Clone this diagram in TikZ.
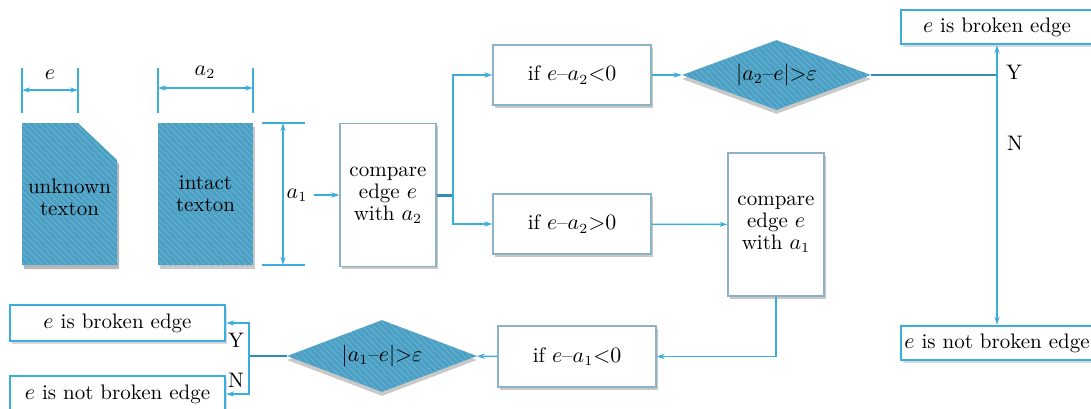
\documentclass[tikz,border=0pt]{standalone}
\usepackage{amsmath,amssymb}
\usepackage{tikz}
\usetikzlibrary{arrows.meta, positioning, calc, shapes, shadows, patterns}
\usepackage{xcolor}
\definecolor{linecyan}{RGB}{58,174,220}
\definecolor{darkcyan}{RGB}{50,140,185}
\definecolor{texfill}{RGB}{74,160,196}
\definecolor{boxgray}{RGB}{140,178,198}

\tikzset{
  hatched/.style={fill=texfill, postaction={pattern=north west lines, pattern color=texfill!82!white}},
  procbox/.style={draw=boxgray, line width=0.6pt, fill=white, align=center, inner sep=1pt,
    drop shadow={shadow xshift=1pt, shadow yshift=-1.3pt, fill=black!30, opacity=0.7}},
  resbox/.style={draw=linecyan, line width=1.2pt, fill=white, inner xsep=1pt,
    drop shadow={shadow xshift=1pt, shadow yshift=-1.3pt, fill=black!25, opacity=0.6}},
  decbox/.style={diamond, hatched, shape aspect=2.7, inner sep=0pt,
    drop shadow={shadow xshift=0pt, shadow yshift=-2pt, fill=black!30, opacity=0.7}},
  arr/.style={draw=linecyan, line width=0.7pt, -{Stealth[length=4pt,width=2.6pt]}},
  dim/.style={draw=linecyan, line width=0.8pt},
  joint/.style={draw=darkcyan, line width=1pt},
}
\newcommand{\dash}{\text{--}}

\begin{document}
\begin{tikzpicture}[x=0.5pt, y=-0.5pt, font=\fontsize{10.5}{11}\selectfont]
  \useasboundingbox (0,0) rectangle (1091,408);

  % textons
  \fill[black!28, shift={(2,4)}] (22,123) -- (78,123) -- (117,160) -- (117,265) -- (22,265) -- cycle;
  \path[hatched] (22,123) -- (78,123) -- (117,160) -- (117,265) -- (22,265) -- cycle;
  \node[align=center] (unk) at (69.5,197) {unknown\\texton};
  \node[hatched, align=center, minimum width=47.5pt, minimum height=71pt,
    drop shadow={shadow xshift=1pt, shadow yshift=-2pt, fill=black!30, opacity=0.7}] (intact) at (205.5,194) {intact\\texton};

  % dimensions
  \draw[dim] (22,68) -- (22,113) (78,68) -- (78,113);
  \draw[dim, {Stealth[length=4pt,width=2.6pt]}-{Stealth[length=4pt,width=2.6pt]}] (22,90) -- (78,90);
  \node (elab) at (50,75) {$e$};
  \draw[dim] (158,68) -- (158,113) (253,68) -- (253,113);
  \draw[dim, {Stealth[length=4pt,width=2.6pt]}-{Stealth[length=4pt,width=2.6pt]}] (158,88) -- (253,88);
  \node (atwo) at (205,72) {$a_2$};
  \draw[dim] (262,123) -- (305,123) (262,265) -- (305,265);
  \draw[dim, {Stealth[length=4pt,width=2.6pt]}-{Stealth[length=4pt,width=2.6pt]}] (283,123) -- (283,265);
  \node (aone) at (297,195) {$a_1$};

  % first comparison
  \node[procbox, minimum width=48pt, minimum height=71.5pt] (cmpa) at (388,195) {compare\\edge $e$\\with $a_2$};
  \draw[arr] (aone) -- (cmpa);
  \node[procbox, minimum width=79pt, minimum height=30pt] (iflt) at (572,75) {if $e\dash a_2{<}0$};
  \node[procbox, minimum width=79pt, minimum height=30pt] (ifgt) at (572,224) {if $e\dash a_2{>}0$};
  \draw[darkcyan, line width=1.5pt] (cmpa.east) -- (453,195) coordinate (split);
  \draw[arr] (split) |- (iflt);
  \draw[arr] (split) |- (ifgt);

  % upper decision
  \node[decbox, minimum width=94.5pt, minimum height=35pt] (dectwo) at (776.5,75) {$|a_2\dash e|{>}\varepsilon$};
  \draw[arr] (iflt) -- (dectwo);
  \node[resbox, minimum width=96pt, minimum height=17pt] (brka) at (997,27) {$e$ is broken edge};
  \node[resbox, minimum width=96pt, minimum height=17pt] (notbrka) at (997,343) {$e$ is not broken edge};
  \draw[joint] (dectwo.east) -- (dectwo.east -| brka.south) coordinate (jya);
  \draw[arr] (jya) -- (brka.south);
  \draw[arr] (jya) -- (notbrka.north);
  \node (ya) at (1014,72) {Y};
  \node (na) at (1015,143) {N};

  % second comparison
  \node[procbox, minimum width=48pt, minimum height=71.5pt] (cmpb) at (776,224.5) {compare\\edge $e$\\with $a_1$};
  \draw[arr] (ifgt) -- (cmpb);
  \node[procbox, minimum width=79pt, minimum height=30.5pt] (ifltb) at (577,356.5) {if $e\dash a_1{<}0$};
  \draw[arr] (cmpb.south) |- (ifltb.east);

  % lower decision
  \node[decbox, minimum width=95pt, minimum height=36pt] (decone) at (382,356) {$|a_1\dash e|{>}\varepsilon$};
  \draw[arr] (ifltb) -- (decone);
  \node[resbox, minimum width=107.5pt, minimum height=18pt] (brkb) at (117.5,323) {$e$ is broken edge};
  \node[resbox, minimum width=107.5pt, minimum height=18pt] (notbrkb) at (117.5,394) {$e$ is not broken edge};
  \draw[joint] (decone.west) -- (249,356) coordinate (jyb);
  \draw[arr] (jyb) |- (brkb.east);
  \draw[arr] (jyb) |- (notbrkb.east);
  \node (yb) at (236,340) {Y};
  \node (nb) at (236,380) {N};
\end{tikzpicture}
\end{document}
